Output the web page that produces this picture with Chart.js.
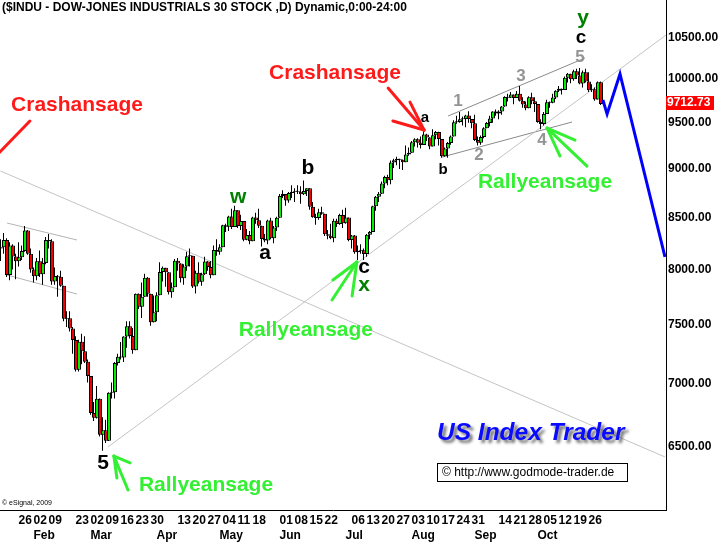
<!DOCTYPE html>
<html><head><meta charset="utf-8">
<script src="https://cdn.jsdelivr.net/npm/chart.js@4.4.1/dist/chart.umd.min.js"></script>
<style>html,body{margin:0;padding:0;background:#fff;overflow:hidden}#wrap{width:723px;height:542px;position:relative}</style>
</head><body><div id="wrap"><canvas id="c" width="723" height="542"></canvas></div>
<script>
// ---------- DATA (daily candles, $INDU, Jan 15 - Oct 30 2009) ----------
const dates = [
'01/15','01/16','01/20','01/21','01/22','01/23','01/26','01/27','01/28','01/29','01/30',
'02/02','02/03','02/04','02/05','02/06','02/09','02/10','02/11','02/12','02/13','02/17','02/18','02/19','02/20','02/23','02/24','02/25','02/26','02/27',
'03/02','03/03','03/04','03/05','03/06','03/09','03/10','03/11','03/12','03/13','03/16','03/17','03/18','03/19','03/20','03/23','03/24','03/25','03/26','03/27','03/30','03/31',
'04/01','04/02','04/03','04/06','04/07','04/08','04/09','04/13','04/14','04/15','04/16','04/17','04/20','04/21','04/22','04/23','04/24','04/27','04/28','04/29','04/30',
'05/01','05/04','05/05','05/06','05/07','05/08','05/11','05/12','05/13','05/14','05/15','05/18','05/19','05/20','05/21','05/22','05/26','05/27','05/28','05/29',
'06/01','06/02','06/03','06/04','06/05','06/08','06/09','06/10','06/11','06/12','06/15','06/16','06/17','06/18','06/19','06/22','06/23','06/24','06/25','06/26','06/29','06/30',
'07/01','07/02','07/06','07/07','07/08','07/09','07/10','07/13','07/14','07/15','07/16','07/17','07/20','07/21','07/22','07/23','07/24','07/27','07/28','07/29','07/30','07/31',
'08/03','08/04','08/05','08/06','08/07','08/10','08/11','08/12','08/13','08/14','08/17','08/18','08/19','08/20','08/21','08/24','08/25','08/26','08/27','08/28','08/31',
'09/01','09/02','09/03','09/04','09/08','09/09','09/10','09/11','09/14','09/15','09/16','09/17','09/18','09/21','09/22','09/23','09/24','09/25','09/28','09/29','09/30',
'10/01','10/02','10/05','10/06','10/07','10/08','10/09','10/12','10/13','10/14','10/15','10/16','10/19','10/20','10/21','10/22','10/23','10/26','10/27','10/28','10/29','10/30'];
const opens = [
8200,8212,8281,7949,8228,8123,8078,8116,8175,8375,8149,
8001,7937,8078,7957,8063,8281,8271,7889,7940,7933,7850,7553,7556,7466,7366,7115,7351,7271,7182,
7063,6763,6726,6876,6594,6627,6547,6926,6930,7170,7224,7217,7396,7487,7401,7278,7776,7660,7750,7925,7776,7522,
7609,7762,7978,8018,7976,7790,7837,8083,8058,7920,8030,8125,8131,7842,7970,7887,7957,8076,8025,7946,8186,
8168,8212,8427,8411,8512,8410,8575,8419,8469,8285,8331,8269,8504,8475,8422,8292,8277,8473,8300,8404,
8500,8721,8741,8675,8750,8763,8764,8763,8739,8771,8799,8612,8505,8497,8556,8540,8339,8323,8300,8472,8438,8529,
8447,8504,8281,8325,8164,8178,8183,8147,8332,8359,8616,8712,8744,8848,8916,8881,9069,9093,9109,9097,9071,9154,
9172,9287,9320,9281,9256,9370,9338,9241,9362,9398,9321,9135,9218,9279,9350,9506,9509,9539,9544,9581,9544,
9496,9311,9281,9345,9441,9497,9547,9627,9605,9627,9683,9792,9784,9820,9779,9830,9749,9707,9665,9789,9742,
9712,9509,9488,9600,9731,9726,9787,9865,9886,9871,10016,10063,9996,10092,10041,9949,10081,9972,9868,9882,9763,9963];
const highs = [
8290,8350,8300,8260,8240,8150,8260,8230,8420,8380,8200,
8020,8110,8180,8110,8310,8340,8290,8020,7950,7990,7850,7620,7620,7480,7400,7370,7420,7400,7200,
7063,6850,6980,6880,6730,6710,6930,7010,7180,7250,7350,7400,7530,7530,7470,7780,7780,7880,7960,7930,7776,7760,
7790,8070,8030,8018,7976,7880,8100,8110,8060,8050,8170,8200,8131,7990,8070,7970,8120,8080,8080,8230,8290,
8240,8430,8440,8520,8590,8620,8575,8530,8469,8390,8370,8510,8550,8590,8422,8340,8480,8500,8420,8510,
8740,8780,8741,8760,8830,8800,8830,8820,8880,8800,8799,8660,8540,8590,8610,8540,8380,8440,8490,8490,8540,8580,
8600,8504,8330,8330,8230,8240,8200,8340,8370,8620,8720,8760,8870,8930,8940,9090,9110,9130,9110,9100,9250,9230,
9300,9330,9330,9350,9430,9380,9340,9430,9410,9400,9321,9230,9290,9360,9530,9580,9620,9570,9590,9630,9544,
9590,9350,9360,9450,9510,9580,9630,9650,9640,9690,9800,9830,9850,9820,9860,9920,9790,9740,9800,9840,9790,
9712,9540,9620,9760,9740,9830,9870,9920,9890,10030,10070,10063,10110,10120,10130,10100,10120,10080,9940,9900,9970,9970];
const lows = [
8080,8150,7930,7900,8000,7910,8030,8090,8170,8140,7970,
7880,7900,7930,7860,8050,8200,7860,7860,7750,7840,7530,7480,7440,7250,7100,7100,7160,7170,7010,
6750,6700,6720,6580,6470,6530,6545,6880,6880,7150,7200,7180,7300,7380,7250,7278,7640,7560,7750,7750,7490,7520,
7530,7762,7890,7840,7770,7740,7837,7990,7880,7860,7990,8030,7830,7780,7870,7850,7950,7990,7920,7946,8130,
8140,8212,8360,8370,8390,8410,8400,8380,8270,8280,8240,8269,8440,8400,8220,8260,8240,8290,8250,8370,
8500,8700,8620,8650,8700,8660,8740,8640,8730,8720,8580,8500,8430,8480,8530,8320,8290,8290,8260,8410,8430,8400,
8440,8270,8200,8150,8090,8150,8090,8120,8290,8359,8570,8660,8740,8800,8830,8840,9010,9040,9000,8990,9071,9140,
9172,9240,9230,9220,9256,9300,9210,9240,9320,9250,9120,9130,9120,9260,9350,9490,9500,9470,9450,9500,9440,
9300,9250,9260,9330,9441,9460,9500,9580,9540,9590,9680,9740,9780,9710,9779,9740,9670,9640,9665,9710,9620,
9500,9430,9470,9600,9670,9720,9770,9850,9820,9871,9960,9950,9980,10000,9940,9900,9960,9850,9850,9750,9763,9700];
const closes = [
8212,8281,7949,8228,8123,8078,8116,8175,8375,8149,8001,
7937,8078,7957,8063,8281,8271,7889,7940,7933,7850,7553,7556,7466,7366,7115,7351,7271,7182,7063,
6763,6726,6876,6594,6627,6547,6926,6930,7170,7224,7217,7396,7487,7401,7278,7776,7660,7750,7925,7776,7522,7609,
7762,7978,8018,7976,7790,7837,8083,8058,7920,8030,8125,8131,7842,7970,7887,7957,8076,8025,7946,8186,8168,
8212,8427,8411,8512,8410,8575,8419,8469,8285,8331,8269,8504,8475,8422,8292,8277,8473,8300,8404,8500,
8721,8741,8675,8750,8763,8764,8763,8739,8771,8799,8612,8505,8497,8556,8540,8339,8323,8300,8472,8438,8529,8447,
8504,8281,8325,8164,8178,8183,8147,8332,8359,8616,8712,8744,8848,8916,8881,9069,9093,9109,9097,9071,9154,9172,
9287,9320,9281,9256,9370,9338,9241,9362,9398,9321,9135,9218,9279,9350,9506,9509,9539,9544,9581,9544,9496,
9311,9281,9345,9441,9497,9547,9627,9605,9627,9683,9792,9784,9820,9779,9830,9749,9707,9665,9789,9742,9712,
9509,9488,9600,9731,9726,9787,9865,9886,9871,10016,10063,9996,10092,10041,9949,10081,9972,9868,9882,9763,9963,9712.73];

const lastPrice = 9712.73;
const yTickValues = [6500,7000,7500,8000,8500,9000,9500,10000,10500];
// week ticks: index into dates[] and the day label shown
const weekTickIdx = [6,11,16,25,30,35,40,45,50,59,64,69,74,79,84,93,98,103,108,117,122,127,132,137,142,147,152,157,166,171,176,181,186,191,196];
const weekTickLabels = ['26','02','09','23','02','09','16','23','30','13','20','27','04','11','18','01','08','15','22','06','13','20','27','03','10','17','24','31','14','21','28','05','12','19','26'];
const monthTickIdx = [11,30,52,73,93,115,137,158,179];
const monthTickLabels = ['Feb','Mar','Apr','May','Jun','Jul','Aug','Sep','Oct'];

// projection (blue) in (index, value)
const projIdx  = [200.8, 202.2, 206.5, 221.5];
const projVals = [9757, 9598, 10059, 8119];

// trend lines [idx1, val1, idx2, val2]
const trendA = [0, 8979, 221.5, 6424];        // long falling line
const trendB = [35.8, 6499, 223, 10560];      // long rising line from March low
const chanTop = [2.2, 8448, 25.5, 8282];      // Jan/Feb box top
const chanBot = [2.2, 7949, 25.5, 7774];      // Jan/Feb box bottom
const wave135 = [149.2, 9576, 194.8, 10249];  // 1-3-5 line
const waveB24 = [147.2, 9127, 190.5, 9509];   // b-2-4 line

// annotation texts anchored at (index, value)
const noteTexts = ['Crashansage','Crashansage','Rallyeansage','Rallyeansage','Rallyeansage',
  '5','w','a','b','c','x','a','b','1','2','3','4','5','c','y'];
const noteIdx  = [25.5,111.5,101.8,68.5,181.5, 34.2,79.2,88.2,102.5,121.2,121.2,141.5,147.5,152.5,159.5,173.5,180.5,193.2,193.5,194.2];
const noteVals = [9700,10070,7453,6216,8864, 6379,8710,8157,9010,8024,7857,9554,8990,9746,9148,10035,9310,10261,10492,10740];

// arrows: tip and tail points (index, value)
const arrowTips  = [[-2.2,9116],[141.2,9420],[118.8,8071],[37.8,6430],[182.2,9442]];
const arrowEnds  = [
  [[9.8,9520]],
  [[129.2,9895],[130.8,9520],[136.5,9734]],
  [[110.5,7720],[110.8,7903],[117.2,7756]],
  [[42.5,6180],[43.2,6380],[38.8,6268]],
  [[195.5,9031],[191.5,9310],[186.5,9138]]
];

// ---------- STYLE ----------
const GREEN = '#00f000', RED = '#f00000', RALLY = '#33f033', CRASH = '#ff1a1a';
const FONT = "'Liberation Sans', Arial, sans-serif";
const noteStyle = [
  ['bold 21px', CRASH],['bold 21px', CRASH],['bold 21px', RALLY],['bold 21px', RALLY],['bold 21px', RALLY],
  ['bold 21px','#000'],['bold 21px','#008000'],['bold 21px','#000'],['bold 21px','#000'],['bold 21px','#000'],['bold 21px','#008000'],
  ['bold 15px','#000'],['bold 15px','#000'],
  ['bold 17px','#949494'],['bold 17px','#949494'],['bold 17px','#949494'],['bold 17px','#949494'],['bold 17px','#949494'],
  ['bold 19px','#000'],['bold 21px','#008000']
];
const arrowColors = [CRASH, CRASH, RALLY, RALLY, RALLY];
const BODY_SHIFT = 1/6;   // half-pixel nudge so 4px bodies land on whole pixels

const idx = dates.map((d,i)=>i);
const line = (seg, color) => ({type:'line', data:[{x:seg[0],y:seg[1]},{x:seg[2],y:seg[3]}],
  borderColor:color, borderWidth:1, pointRadius:0, order:10, clip:0, tension:0});

const annoPlugin = {
  id:'anno',
  afterDatasetsDraw(chart){
    const {ctx, chartArea:a} = chart; const X = chart.scales.x, Y = chart.scales.y;
    const px = v => X.getPixelForValue(v), py = v => Y.getPixelForValue(v);
    ctx.save();
    ctx.beginPath(); ctx.rect(a.left, a.top, a.right-a.left, a.bottom-a.top); ctx.clip();
    arrowTips.forEach((t,k)=>{
      ctx.strokeStyle = arrowColors[k]; ctx.lineWidth = 3; ctx.lineCap = 'round';
      arrowEnds[k].forEach(e=>{ ctx.beginPath(); ctx.moveTo(px(t[0]),py(t[1])); ctx.lineTo(px(e[0]),py(e[1])); ctx.stroke(); });
    });
    ctx.textAlign='center'; ctx.textBaseline='middle';
    noteTexts.forEach((s,k)=>{
      ctx.font = noteStyle[k][0]+' '+FONT; ctx.fillStyle = noteStyle[k][1];
      ctx.fillText(s, px(noteIdx[k]), py(noteVals[k]));
    });
    ctx.restore();
  },
  afterDraw(chart){
    const {ctx, chartArea:a} = chart; const Y = chart.scales.y;
    ctx.save();
    ctx.font = 'bold 12px '+FONT; ctx.fillStyle='#000'; ctx.textAlign='left'; ctx.textBaseline='middle';
    ctx.fillText('($INDU - DOW-JONES INDUSTRIALS 30 STOCK ,D) Dynamic,0:00-24:00', 2, 8);
    const yp = Y.getPixelForValue(lastPrice);
    ctx.fillStyle='#ff0000'; ctx.fillRect(a.right, Math.round(yp)-8, 48, 14);
    ctx.fillStyle='#fff'; ctx.font='bold 12px '+FONT; ctx.fillText(lastPrice.toFixed(2), a.right+1, Math.round(yp)-1);
    ctx.font = 'italic bold 24.5px '+FONT; ctx.textAlign='left';
    ctx.shadowColor='rgba(0,0,0,0.55)'; ctx.shadowOffsetX=3; ctx.shadowOffsetY=3; ctx.shadowBlur=3;
    ctx.fillStyle='#0a0aff'; ctx.fillText('US Index Trader', 437, 433);
    ctx.shadowColor='transparent'; ctx.shadowBlur=0; ctx.shadowOffsetX=0; ctx.shadowOffsetY=0;
    ctx.fillStyle='#fff'; ctx.fillRect(437.5,463.5,190,18);
    ctx.strokeStyle='#000'; ctx.lineWidth=1; ctx.strokeRect(437.5,463.5,190,18);
    ctx.fillStyle='#000'; ctx.font='12px '+FONT; ctx.fillText('\u00a9 http://www.godmode-trader.de', 442, 473);
    ctx.font='7px '+FONT; ctx.fillText('\u00a9 eSignal, 2009', 2, 503);
    ctx.restore();
  }
};

new Chart(document.getElementById('c'), {
  data:{ datasets:[
    line(trendA,'#c4c4c4'), line(trendB,'#c4c4c4'), line(chanTop,'#b4b4b4'), line(chanBot,'#b4b4b4'),
    line(wave135,'#8a8a8a'), line(waveB24,'#8a8a8a'),
    {type:'bar', data: idx.map(i=>({x:i, y:[lows[i], highs[i]]})), backgroundColor:'#000',
      barThickness:1, grouped:false, order:5, inflateAmount:0, borderWidth:0},
    {type:'bar', data: idx.map(i=>({x:i+BODY_SHIFT, y:[opens[i], closes[i]]})),
      backgroundColor: idx.map(i=> closes[i] >= opens[i] ? GREEN : RED), borderColor:'#000', borderWidth:1,
      borderSkipped:false, barThickness:4, grouped:false, order:4, inflateAmount:0, minBarLength:1},
    {type:'line', data: projIdx.map((v,k)=>({x:v, y:projVals[k]})), borderColor:'#0000ff', borderWidth:3,
      pointRadius:0, order:1, tension:0, borderJoinStyle:'miter'}
  ]},
  options:{
    responsive:false, animation:false, devicePixelRatio:1,
    layout:{padding:0, autoPadding:false},
    plugins:{legend:{display:false}, tooltip:{enabled:false}},
    scales:{
      x:{type:'linear', position:'bottom', min:-1/6, max:221.8333, bounds:'data', offset:false,
        grid:{display:false, drawTicks:false, offset:false}, border:{display:true, color:'#000', width:1},
        afterBuildTicks:s=>{ s.ticks = weekTickIdx.map(v=>({value:v})); },
        afterFit:s=>{ s.height = 17; s.paddingLeft = 0; s.paddingRight = 0; },
        ticks:{autoSkip:false, maxRotation:0, minRotation:0, align:'start', padding:3, color:'#000',
          font:{family:FONT, size:12, weight:'bold'},
          callback:v=>{ const k = weekTickIdx.indexOf(v); return k>=0 ? weekTickLabels[k] : ''; }}},
      x2:{type:'linear', position:'bottom', min:-1/6, max:221.8333, bounds:'data', offset:false,
        grid:{display:false, drawTicks:false, offset:false}, border:{display:false},
        afterBuildTicks:s=>{ s.ticks = monthTickIdx.map(v=>({value:v})); },
        afterFit:s=>{ s.height = 15; s.paddingLeft = 0; s.paddingRight = 0; },
        ticks:{autoSkip:false, maxRotation:0, minRotation:0, align:'start', padding:1, color:'#000',
          font:{family:FONT, size:12, weight:'bold'},
          callback:v=>{ const k = monthTickIdx.indexOf(v); return k>=0 ? monthTickLabels[k] : ''; }}},
      y:{type:'logarithmic', position:'right', min:6037, max:10969.6, bounds:'data',
        grid:{display:false, drawTicks:false}, border:{display:true, color:'#000', width:1},
        afterBuildTicks:s=>{ s.ticks = yTickValues.map(v=>({value:v})); },
        afterFit:s=>{ s.width = 57; s.paddingTop = 0; s.paddingBottom = 0; },
        ticks:{padding:2, color:'#000', font:{family:FONT, size:12, weight:'bold'},
          callback:v=> Number(v).toFixed(2)}}
    }
  },
  plugins:[annoPlugin]
});
</script></body></html>
